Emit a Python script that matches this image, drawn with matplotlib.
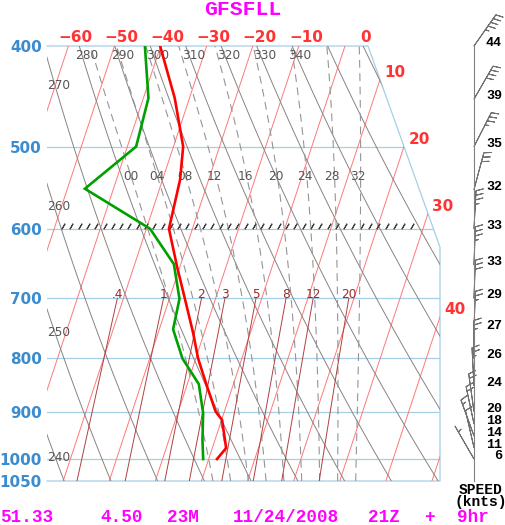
import numpy as np
import matplotlib
matplotlib.use('Agg')
import matplotlib.pyplot as plt
from matplotlib.patches import Polygon

# ---------------- data ----------------
temp_p = [400, 449, 500, 538, 600, 653, 700, 756, 800, 852, 900, 917, 976, 1000]
temp_c = [-40.1, -33.2, -27.9, -26.2, -25.1, -20.6, -16.7, -12.4, -9.5, -5.5, -1.9, 0.1, 3.0, 1.8]
dew_p = [400, 449, 500, 549, 600, 649, 701, 750, 800, 847, 903, 959, 1000]
dew_c = [-43.4, -38.9, -38.1, -46.2, -29.2, -21.5, -17.8, -17.0, -12.9, -7.5, -4.5, -2.7, -1.2]

wind_p = [400, 450, 500, 550, 600, 650, 700, 750, 800, 850, 900, 925, 950, 975, 1000]
wind_spd = [44, 39, 35, 32, 33, 33, 29, 27, 26, 24, 20, 18, 14, 11, 6]
wind_dir = [35, 30, 27, 15, 3, 2, 2, 2, 0, 357, 352, 348, 340, 347, 330]

pressure_levels = [400, 500, 600, 700, 800, 900, 1000, 1050]
isotherms = list(range(-100, 60, 10))
isotherm_top_labels = [-60, -50, -40, -30, -20, -10, 0]
isotherm_side_labels = [10, 20, 30, 40]
dry_thetas = list(range(230, 470, 10))
dry_top_labels = [280, 290, 300, 310, 320, 330, 340]
dry_side_labels = [270, 260, 250, 240]
dry_side_label_p = [439.6, 575.1, 761.4, 1004.4]
moist_thetaw = [0, 4, 8, 12, 16, 20, 24, 28, 32]
mix_ratios = [0.4, 1, 2, 3, 5, 8, 12, 20]
mix_labels = ['.4', '1', '2', '3', '5', '8', '12', '20']
hatch_level = 595.7

footer = [('51.33', 0), ('4.50', 100), ('23M', 167), ('11/24/2008', 233),
          ('21Z', 368), ('+', 424), ('9hr', 457)]
title = 'GFSFLL'
speed_title = 'SPEED\n(knts)'

# ---------------- geometry ----------------
SKEW = 32.26
W, H = 506, 525
PX_PER_C = 4.61
X0_PX = 208.7


def skx(T, p):
    return np.asarray(T, float) + SKEW * np.log(1000.0 / np.asarray(p, float))


def fpos(l, t, r, b):
    return [l / W, 1 - b / H, (r - l) / W, (b - t) / H]


XMIN = (47 - X0_PX) / PX_PER_C
XMAX = (440 - X0_PX) / PX_PER_C
XTR = (368 - X0_PX) / PX_PER_C
PC = 625.0
PT = 0.72  # points per pixel

fig = plt.figure(figsize=(W / 100, H / 100), dpi=100)
ax = fig.add_axes(fpos(47, 46, 440, 481))
ax.set_yscale('log')
ax.set_ylim(1050, 400)
ax.set_xlim(XMIN, XMAX)
ax.axis('off')

clip = Polygon([(XMIN, 1050), (XMIN, 400), (XTR, 400), (XMAX, PC), (XMAX, 1050)],
               closed=True, transform=ax.transData, facecolor='none', edgecolor='none')
ax.add_patch(clip)


def cplot(x, y, **kw):
    ln, = ax.plot(x, y, **kw)
    ln.set_clip_path(clip)
    return ln


BLUE_LINE = '#a6cfe6'
ISO_RED = '#ff7878'
DRY_GREY = '#8a8282'
MOIST_GREY = '#959595'
MIX_RED = '#b04040'

# isobars
for p in pressure_levels[1:-1]:
    cplot([XMIN, XMAX], [p, p], color=BLUE_LINE, lw=0.9, zorder=1)
# frame
ax.plot([XMIN, XTR, XMAX, XMAX, XMIN], [400, 400, PC, 1050, 1050],
        color=BLUE_LINE, lw=0.9, clip_on=False, zorder=1)

# isotherms
pe = np.array([1050.0, 400.0])
for T in isotherms:
    cplot(skx(T, pe), pe, color=ISO_RED, lw=0.7, zorder=2)

# dry adiabats
pp = np.geomspace(1050, 400, 120)
for th in dry_thetas:
    T = th * (pp / 1000.0) ** 0.2857 - 273.15
    cplot(skx(T, pp), pp, color=DRY_GREY, lw=0.7, zorder=2)

# moist adiabats
Rd, cp, Lv, eps = 287.04, 1005.7, 2.501e6, 0.622


def dTdp(T, p):
    es = 6.112 * np.exp(17.67 * (T - 273.15) / (T - 29.65))
    rs = eps * es / (p - es)
    return (Rd * T + Lv * rs) / (cp + Lv * Lv * rs * eps / (Rd * T * T)) / p


def moist(tw):
    out = {}
    for pend in (400.0, 1050.0):
        n = 300
        ps = np.linspace(1000.0, pend, n + 1)
        h = ps[1] - ps[0]
        T = tw + 273.15
        Ts = [T]
        for p in ps[:-1]:
            k1 = dTdp(T, p)
            k2 = dTdp(T + h * k1 / 2, p + h / 2)
            k3 = dTdp(T + h * k2 / 2, p + h / 2)
            k4 = dTdp(T + h * k3, p + h)
            T = T + h * (k1 + 2 * k2 + 2 * k3 + k4) / 6
            Ts.append(T)
        out[pend] = (ps, np.array(Ts) - 273.15)
    pu, tu = out[400.0]
    pd, td = out[1050.0]
    P = np.concatenate([pd[::-1], pu[1:]])
    TT = np.concatenate([td[::-1], tu[1:]])
    return P, TT


moist_lines = {}
for tw in moist_thetaw:
    P, TT = moist(tw)
    moist_lines[tw] = (P, TT)
    cplot(skx(TT, P), P, color=MOIST_GREY, lw=0.8, ls=(0, (7, 5)), zorder=2)

# mixing ratio lines


def td_from_w(w, p):
    e = w * p / (622.0 + w)
    a = np.log(e / 6.112)
    return 243.5 * a / (17.67 - a)


pm = np.geomspace(1050, 700, 40)
for w in mix_ratios:
    cplot(skx(td_from_w(w, pm), pm), pm, color=MIX_RED, lw=0.7, zorder=2)

# hatch at 600
hx = np.arange(-31.6, 45.2, 1.8)
ax.plot(hx, np.full_like(hx, hatch_level), ls='none', marker=(2, 2, -30),
        markersize=4.6, markeredgewidth=0.8, color='#444444', zorder=3)

# profiles
ax.plot(skx(dew_c, dew_p), dew_p, color='#00a000', lw=1.9, zorder=5,
        solid_joinstyle='miter')
ax.plot(skx(temp_c, temp_p), temp_p, color='#ff0000', lw=1.9, zorder=6,
        solid_joinstyle='miter')

# ---------------- labels ----------------
lab_kw = dict(textcoords='offset points', annotation_clip=False)
for p in pressure_levels:
    ax.annotate(str(p), xy=(0, p), xycoords=ax.get_yaxis_transform(),
                xytext=(-5 * PT, -6 * PT), ha='right', va='baseline',
                fontsize=10.9, fontweight='bold', color='#3a8cd0',
                family='DejaVu Sans', **lab_kw)

for T in isotherm_top_labels:
    dx = 7 if T < 0 else 20.5
    ax.annotate(str(T).replace('-', '\u2212'), xy=(skx(T, 400), 400),
                xytext=(dx * PT, 4.3 * PT), ha='center', va='baseline',
                fontsize=11, fontweight='bold', color='#ff3333',
                family='DejaVu Sans', **lab_kw)

lp4, lpc = np.log(400.0), np.log(PC)
for T in isotherm_side_labels:
    a = (XMAX - XTR) / (lpc - lp4)
    lp = (T + SKEW * np.log(1000.0) - XTR + a * lp4) / (a + SKEW)
    p = np.exp(lp)
    if p > PC:
        p = 1000.0 * np.exp(-(XMAX - T) / SKEW)
    ax.annotate(str(T), xy=(skx(T, p), p), xytext=(15 * PT, 3 * PT),
                ha='center', va='baseline', fontsize=11, fontweight='bold',
                color='#ff3333', family='DejaVu Sans', **lab_kw)

for th in dry_top_labels:
    T = th * 0.4 ** 0.2857 - 273.15
    ax.annotate(str(th), xy=(skx(T, 400), 400), xytext=(-4 * PT, -13.3 * PT),
                ha='left', va='baseline', fontsize=8.7, color='#555555',
                family='DejaVu Sans', **lab_kw)
for th, p in zip(dry_side_labels, dry_side_label_p):
    ax.annotate(str(th), xy=(0, p), xycoords=ax.get_yaxis_transform(),
                xytext=(0, 0), ha='left', va='baseline', fontsize=8.7,
                color='#555555', family='DejaVu Sans', **lab_kw)

for tw in moist_thetaw:
    P, TT = moist_lines[tw]
    tlab = np.interp(534.0, P[::-1], TT[::-1])
    ax.annotate('%02d' % tw, xy=(skx(tlab, 534.0), 534.0),
                xytext=(-0.1 * tw * PT, -4.2 * PT),
                ha='center', va='baseline', fontsize=8.7, color='#555555',
                family='DejaVu Sans', **lab_kw)

for w, s in zip(mix_ratios, mix_labels):
    ax.annotate(s, xy=(skx(td_from_w(w, 700.0), 700.0), 700.0), xytext=(0, 0),
                ha='center', va='baseline', fontsize=8.7, color='#a02828',
                family='DejaVu Sans', **lab_kw)

# ---------------- wind column ----------------
ax2 = fig.add_axes(fpos(446, 46, 506, 481))
ax2.set_yscale('log')
ax2.set_ylim(1050, 400)
ax2.set_xlim(0, 1)
ax2.axis('off')
xs = (474 - 446) / 60.0
ax2.plot([xs, xs], [400, 1050], color='#808080', lw=0.8, clip_on=False)
wd = np.deg2rad(wind_dir)
u = -np.array(wind_spd) * np.sin(wd)
v = -np.array(wind_spd) * np.cos(wd)
ax2.barbs(np.full(len(wind_p), xs), wind_p, u, v, length=7.4, lw=0.7,
          color='#707070', sizes=dict(spacing=0.12, height=0.19, width=0.12),
          clip_on=False)
for p, s in zip(wind_p, wind_spd):
    ax2.annotate(str(s), xy=((502 - 446) / 60.0, p), xytext=(0, 0),
                 ha='right', va='baseline', fontsize=9.6, fontweight='bold',
                 color='black', family='Liberation Mono', **lab_kw)

fig.text(481 / W, 1 - 496 / H, speed_title, ha='center', va='center',
         multialignment='center', linespacing=0.78, fontsize=10.5,
         fontweight='bold', family='Liberation Mono', color='black')

# title and footer
fig.text(243 / W, 1 - 15 / H, title, ha='center', va='baseline', fontsize=15.4,
         fontweight='bold', family='Liberation Mono', color='#ff00ff')
for s, x in footer:
    fig.text(x / W, 1 - 522 / H, s, ha='left', va='baseline', fontsize=12.7,
             fontweight='bold', family='Liberation Mono', color='#ff00ff')

fig.savefig('out.png', dpi=100)
